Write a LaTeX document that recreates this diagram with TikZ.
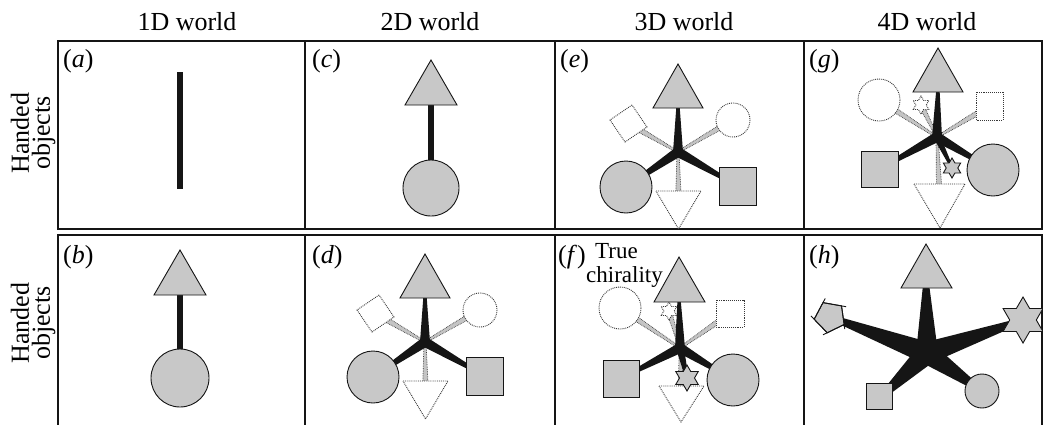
\documentclass[tikz,border=0pt]{standalone}
\usepackage{fontspec}
\setmainfont{Liberation Serif}
\usetikzlibrary{calc}
\definecolor{shade}{HTML}{C8C8C8}
\definecolor{ink}{HTML}{151515}
\tikzset{
  solidshape/.style={draw=ink, line width=0.9pt, fill=shade},
  ghostshape/.style={draw=ink!85, line width=0.9pt, densely dotted, fill=white},
  solidarm/.style={fill=ink},
  ghostarm/.style={draw=ink!85, line width=0.7pt, densely dotted, fill=ink!25},
  bar/.style={draw=ink, line width=6pt},
  panelbox/.style={draw=ink, line width=1.5pt},
  bigtext/.style={font=\fontsize{26}{26}\selectfont, inner sep=0pt},
  handtext/.style={font=\fontsize{26}{21}\selectfont, inner sep=0pt, align=center, rotate=90},
  smalltext/.style={font=\fontsize{23}{23}\selectfont, inner sep=0pt},
}
% arm from hub #2 to end #3, half widths #4 (hub) and #5 (end)
\newcommand\armquad[5]{\path[#1] ($(#2)!#4!90:(#3)$) -- ($(#3)!#5!-90:(#2)$) -- ($(#3)!#5!90:(#2)$) -- ($(#2)!#4!-90:(#3)$) -- cycle;}
% hexagram: style, centre, outer radius, inner radius
\newcommand\hexagram[4]{\path[#1] #2 +(90:#3) -- +(120:#4) -- +(150:#3) -- +(180:#4) -- +(210:#3) -- +(240:#4) -- +(270:#3) -- +(300:#4) -- +(330:#3) -- +(0:#4) -- +(30:#3) -- +(60:#4) -- cycle;}
% figure of panels (d) and (e)
\newcommand\figDE[3]{%
\begin{scope}[shift={(#1,#2)}]
 \coordinate (#3-h) at (0,0);
 \coordinate (#3-gd) at (-49.5,-28.5);
 \coordinate (#3-gc) at (55,-32);
 \coordinate (#3-gt) at (0.5,52);
 \coordinate (#3-t) at (0,-50);
 \coordinate (#3-c) at (-52,35);
 \coordinate (#3-s) at (59.5,34);
\end{scope}
\armquad{ghostarm}{#3-h}{#3-gd}{1pt}{3pt}
\armquad{ghostarm}{#3-h}{#3-gc}{1pt}{3pt}
\armquad{ghostarm}{#3-h}{#3-gt}{1pt}{3pt}
\begin{scope}[shift={(#1,#2)}]
 \path[ghostshape] (-46,-47) -- (-68,-32) -- (-53,-10) -- (-31,-25) -- cycle;
 \path[ghostshape] (55,-32) circle[radius=17];
 \path[ghostshape] (-22,39) -- (23,39) -- (0.5,77) -- cycle;
\end{scope}
\armquad{solidarm}{#3-h}{#3-t}{5pt}{1.3pt}
\armquad{solidarm}{#3-h}{#3-c}{5pt}{1.3pt}
\armquad{solidarm}{#3-h}{#3-s}{5pt}{1.3pt}
\begin{scope}[shift={(#1,#2)}]
 \path[solidshape] (0,-88) -- (-25,-44) -- (25,-44) -- cycle;
 \path[solidshape] (-52,35) circle[radius=26];
 \path[solidshape] (41,15) rectangle (78,53);
\end{scope}}
\begin{document}
\begin{tikzpicture}[x=1pt,y=-1pt]
\useasboundingbox (0,0) rectangle (1043,424);
\clip (0,0) rectangle (1043,424);
\fill[white] (0,0) rectangle (1043,424);
% headers
\node[bigtext, anchor=base] (h1) at (187,30) {1D world};
\node[bigtext, anchor=base] (h2) at (430,30) {2D world};
\node[bigtext, anchor=base] (h3) at (684,30) {3D world};
\node[bigtext, anchor=base] (h4) at (927,30) {4D world};
\node[handtext] (r1) at (33,133) {Handed\\objects};
\node[handtext] (r2) at (33,323) {Handed\\objects};
% frames
\draw[panelbox] (58,41) rectangle (1042,229);
\draw[panelbox] (58,235) rectangle (1042,440);
\foreach \xx in {305,555,804} {
  \draw[panelbox] (\xx,41) -- (\xx,229);
  \draw[panelbox] (\xx,235) -- (\xx,440);
}
% labels
\node[bigtext, anchor=base west] (la) at (63,67) {(\textit{a})};
\node[bigtext, anchor=base west] (lc) at (312,67) {(\textit{c})};
\node[bigtext, anchor=base west] (le) at (560,67) {(\textit{e})};
\node[bigtext, anchor=base west] (lg) at (809,67) {(\textit{g})};
\node[bigtext, anchor=base west] (lb) at (63,263) {(\textit{b})};
\node[bigtext, anchor=base west] (ld) at (312,263) {(\textit{d})};
\node[bigtext, anchor=base west] (lf) at (558,263) {(\textit{f})};
\node[bigtext, anchor=base west] (lh) at (809,263) {(\textit{h})};
\node[smalltext, anchor=base west] (tr) at (595,258) {True};
\node[smalltext, anchor=base west] (ch) at (586,282) {chirality};
% (a)
\coordinate (a-top) at (180,72);
\coordinate (a-bot) at (180,189);
\draw[bar] (a-top) -- (a-bot);
% (c)
\coordinate (c-t) at (431,95);
\coordinate (c-c) at (431,188);
\draw[bar] (c-t) -- (c-c);
\path[solidshape] (431,60) -- (405,105) -- (457,105) -- cycle;
\path[solidshape] (c-c) circle[radius=28];
% (b)
\coordinate (b-t) at (180,285);
\coordinate (b-c) at (180,378);
\draw[bar] (b-t) -- (b-c);
\path[solidshape] (180,250) -- (154,295) -- (206,295) -- cycle;
\path[solidshape] (b-c) circle[radius=29];
% (d), (e)
\figDE{425}{342}{D}
\figDE{678}{152}{E}
% (g)
\begin{scope}[shift={(937,137)}]
 \coordinate (G-h) at (0,0);
 \coordinate (G-t) at (1,-52);
 \coordinate (G-gc) at (-58,-37);
 \coordinate (G-gs) at (52.5,-31);
 \coordinate (G-gx) at (-16,-32);
 \coordinate (G-s) at (-57.5,32);
 \coordinate (G-c) at (56,33);
 \coordinate (G-x) at (15,31);
 \coordinate (G-gt) at (2.5,60);
\end{scope}
\armquad{ghostarm}{G-h}{G-gc}{1pt}{3pt}
\armquad{ghostarm}{G-h}{G-gs}{1pt}{3pt}
\armquad{ghostarm}{G-h}{G-gx}{1pt}{2.5pt}
\armquad{ghostarm}{G-h}{G-gt}{1pt}{3pt}
\path[ghostshape] (G-gc) circle[radius=21];
\path[ghostshape] (976,92) rectangle (1003,120);
\hexagram{ghostshape}{(G-gx)}{9}{5.2}
\path[ghostshape] (914,184) -- (965,184) -- (940,228) -- cycle;
\armquad{solidarm}{G-h}{G-t}{5pt}{1.3pt}
\armquad{solidarm}{G-h}{G-s}{5pt}{1.3pt}
\armquad{solidarm}{G-h}{G-c}{5pt}{1.3pt}
\armquad{solidarm}{G-h}{G-x}{3.5pt}{1.2pt}
\path[solidshape] (938,48) -- (913,92) -- (963,92) -- cycle;
\path[solidshape] (861,151) rectangle (898,187);
\path[solidshape] (G-c) circle[radius=26];
\hexagram{solidshape}{(G-x)}{10}{5.8}
% (f)
\begin{scope}[shift={(680,348)}]
 \coordinate (F-h) at (0,0);
 \coordinate (F-t) at (-1,-52);
 \coordinate (F-gc) at (-60,-40);
 \coordinate (F-gs) at (50,-34.5);
 \coordinate (F-gx) at (-11,-37);
 \coordinate (F-s) at (-59,30.5);
 \coordinate (F-c) at (53,32);
 \coordinate (F-x) at (7,30);
 \coordinate (F-gt) at (1.5,50);
\end{scope}
\armquad{ghostarm}{F-h}{F-gc}{1pt}{3pt}
\armquad{ghostarm}{F-h}{F-gs}{1pt}{3pt}
\armquad{ghostarm}{F-h}{F-gx}{1pt}{2.5pt}
\armquad{ghostarm}{F-h}{F-gt}{1pt}{3pt}
\path[ghostshape] (F-gc) circle[radius=21];
\path[ghostshape] (716,300) rectangle (744,327);
\hexagram{ghostshape}{(F-gx)}{9}{5.2}
\path[ghostshape] (659,386) -- (704,386) -- (681,422) -- cycle;
\armquad{solidarm}{F-h}{F-t}{5pt}{1.3pt}
\armquad{solidarm}{F-h}{F-s}{5pt}{1.3pt}
\armquad{solidarm}{F-h}{F-c}{5pt}{1.3pt}
\armquad{solidarm}{F-h}{F-x}{4pt}{1.5pt}
\path[solidshape] (679,257) -- (654,302) -- (705,302) -- cycle;
\path[solidshape] (603,360) rectangle (639,397);
\path[solidshape] (F-c) circle[radius=26];
\hexagram{solidshape}{(F-x)}{13}{7.5}
% (h)
\coordinate (H-h) at (927,353);
\coordinate (H-t) at (926,280);
\coordinate (H-p) at (830,317);
\coordinate (H-x) at (1023,320);
\coordinate (H-s) at (879,399);
\coordinate (H-c) at (982,391);
\armquad{solidarm}{H-h}{H-t}{11pt}{2.5pt}
\armquad{solidarm}{H-h}{H-p}{11pt}{2.5pt}
\armquad{solidarm}{H-h}{H-x}{11pt}{2.5pt}
\armquad{solidarm}{H-h}{H-s}{11pt}{2.5pt}
\armquad{solidarm}{H-h}{H-c}{11pt}{2.5pt}
\path[solidshape] (926,244) -- (901,288) -- (952,288) -- cycle;
\begin{scope}[shift={(830,317)}]
 \coordinate (p1) at (100:16);
 \coordinate (p2) at (172:16);
 \coordinate (p3) at (244:16);
 \coordinate (p4) at (316:16);
 \coordinate (p5) at (28:16);
\end{scope}
\path[solidshape] (p1) -- (p2) -- (p3) -- (p4) -- (p5) -- cycle;
\draw[ink, line width=0.9pt] (p1) -- ($(p1)!1.25!(p2)$);
\draw[ink, line width=0.9pt] (p2) -- ($(p2)!1.25!(p3)$);
\draw[ink, line width=0.9pt] (p3) -- ($(p3)!1.25!(p4)$);
\draw[ink, line width=0.9pt] (p4) -- ($(p4)!1.25!(p5)$);
\draw[ink, line width=0.9pt] (p5) -- ($(p5)!1.25!(p1)$);
\hexagram{solidshape}{(H-x)}{23}{13.3}
\path[solidshape] (866,383) rectangle (892,409);
\path[solidshape] (H-c) circle[radius=17];
\end{tikzpicture}
\end{document}
